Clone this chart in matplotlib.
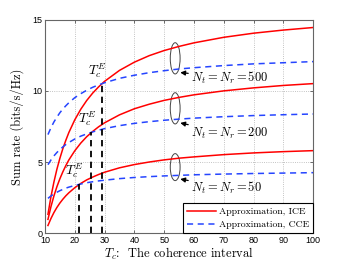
import numpy as np
import matplotlib
matplotlib.use('Agg')
import matplotlib.pyplot as plt
from matplotlib.patches import Ellipse

plt.rcParams['mathtext.fontset'] = 'cm'

# coherence interval samples
Tc = [11, 12, 13, 14, 15, 16, 17, 18, 20, 22, 24, 26, 28, 30, 35, 40, 45, 50, 55, 60, 70, 80, 90, 100]

# Approximation, ICE (red solid)
ice_500 = [1.32, 2.55, 3.59, 4.49, 5.26, 5.94, 6.53, 7.07, 7.97, 8.71, 9.33, 9.85, 10.29, 10.68,
           11.45, 12.03, 12.49, 12.85, 13.14, 13.39, 13.78, 14.07, 14.29, 14.47]
ice_200 = [0.96, 1.85, 2.61, 3.26, 3.82, 4.31, 4.75, 5.14, 5.79, 6.33, 6.78, 7.15, 7.48, 7.76,
           8.32, 8.75, 9.07, 9.34, 9.55, 9.73, 10.01, 10.22, 10.39, 10.52]
ice_50 = [0.53, 1.02, 1.44, 1.80, 2.11, 2.38, 2.62, 2.83, 3.19, 3.49, 3.74, 3.94, 4.12, 4.28,
          4.59, 4.82, 5.00, 5.15, 5.27, 5.36, 5.52, 5.64, 5.73, 5.80]

# Approximation, CCE (blue dashed)
cce_500 = [6.93, 7.41, 7.82, 8.16, 8.47, 8.73, 8.96, 9.17, 9.53, 9.81, 10.05, 10.26, 10.43, 10.58,
           10.89, 11.11, 11.29, 11.43, 11.55, 11.64, 11.79, 11.91, 11.99, 12.07]
cce_200 = [4.81, 5.14, 5.43, 5.67, 5.88, 6.06, 6.23, 6.37, 6.62, 6.82, 6.98, 7.12, 7.24, 7.35,
           7.56, 7.72, 7.84, 7.94, 8.02, 8.09, 8.19, 8.27, 8.33, 8.38]
cce_50 = [2.44, 2.61, 2.75, 2.87, 2.98, 3.07, 3.16, 3.23, 3.35, 3.45, 3.54, 3.61, 3.67, 3.72,
          3.83, 3.91, 3.97, 4.02, 4.06, 4.10, 4.15, 4.19, 4.22, 4.25]

# crossing points T_c^E
tce_x = [21.3, 25.6, 29.1]
tce_y = [3.42, 7.08, 10.5]

# antenna groups: label, ellipse centre / height, text position, arrow tip
groups = ['500', '200', '50']
ell_y = [12.3, 8.78, 4.64]
ell_h = [2.2, 2.2, 1.9]
txt_y = [10.95, 7.0, 3.2]
tip_y = [11.3, 7.75, 3.8]

fig = plt.figure(figsize=(3.46, 2.63), dpi=100)
ax = fig.add_axes([0.130, 0.114, 0.775, 0.810])

red = '#ff0000'
blue = '#2645ff'
for y in [ice_500, ice_200, ice_50]:
    ax.plot(Tc, y, color=red, lw=1.1)
for y in [cce_500, cce_200, cce_50]:
    ax.plot(Tc, y, color=blue, lw=1.1, ls=(0, (4, 3)))

for x, y in zip(tce_x, tce_y):
    ax.plot([x, x], [0, y], color='k', lw=1.3, ls=(0, (3.5, 2.5)))
    ax.text(x - 1.5, y + 0.3, r'$T_c^E$', fontsize=9.5, ha='center', va='bottom')

for lab, ey, eh, ty, tipy in zip(groups, ell_y, ell_h, txt_y, tip_y):
    ax.add_patch(Ellipse((53.7, ey), 3.3, eh, fill=False, ec='#444444', lw=0.7))
    ax.annotate(r'$N_t = N_r = %s$' % lab, xy=(55.4, tipy), xytext=(59.0, ty),
                fontsize=9, va='center', ha='left',
                arrowprops=dict(arrowstyle='-|>', color='k', lw=0.9,
                                mutation_scale=7, shrinkA=0, shrinkB=0))

ax.plot([], [], color=red, lw=1.1, label='Approximation, ICE')
ax.plot([], [], color=blue, lw=1.1, ls=(0, (4, 3)), label='Approximation, CCE')
handles, labels = ax.get_legend_handles_labels()
leg = ax.legend(handles[-2:], labels[-2:], loc='lower right', borderaxespad=0,
                fancybox=False, edgecolor='k', framealpha=1, handlelength=3.0,
                handletextpad=0.3, prop={'family': 'cmr10', 'size': 7},
                borderpad=0.4, labelspacing=0.45)
leg.get_frame().set_linewidth(0.8)

ax.set_xlim(10, 100)
ax.set_ylim(0, 15)
ax.set_xticks(range(10, 101, 10))
ax.set_yticks([0, 5, 10, 15])
ax.grid(True, ls=':', lw=0.6, color='#b0b0b0')
ax.tick_params(direction='in', top=True, right=True, length=2.5, width=0.6,
               labelsize=6.5, color='#555555')
ax.tick_params(axis='x', pad=2.5)
ax.tick_params(axis='y', pad=2)
for lbl in ax.get_xticklabels() + ax.get_yticklabels():
    lbl.set_family('Liberation Sans')
for sp in ax.spines.values():
    sp.set_color('#666666')
    sp.set_linewidth(0.8)

ax.set_xlabel(r'$T_c$:  The coherence interval', fontsize=9, family='cmr10', labelpad=0.5)
ax.set_ylabel('Sum rate (bits/s/Hz)', fontsize=9, family='cmr10', labelpad=6)

fig.savefig('out.png', dpi=100)
